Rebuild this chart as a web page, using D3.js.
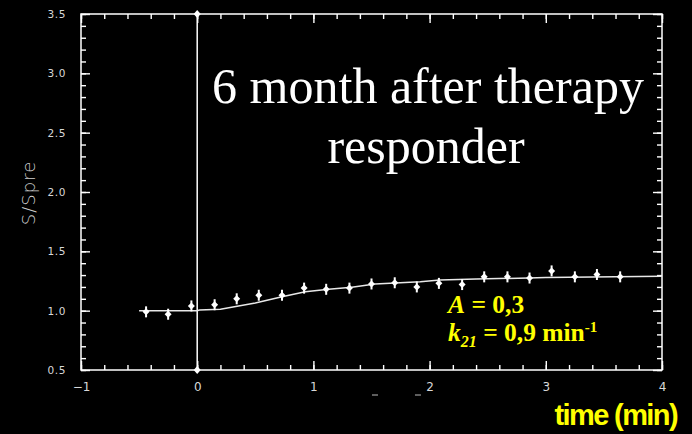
<!DOCTYPE html>
<html>
<head>
<meta charset="utf-8">
<script src="https://cdn.jsdelivr.net/npm/d3@7"></script>
<style>
  html, body { margin: 0; padding: 0; background: #000; }
  svg { display: block; }
</style>
</head>
<body>
<svg id="chart" width="692" height="434"></svg>
<script>
// Measured signal ratio S/Spre after injection (time in minutes)
const times  = [-0.44, -0.25, -0.05, 0.15, 0.34, 0.53, 0.73, 0.92, 1.11, 1.31, 1.50,
                1.70, 1.89, 2.08, 2.28, 2.47, 2.67, 2.86, 3.05, 3.25, 3.44, 3.64];
const ratios = [0.99, 0.97, 1.04, 1.05, 1.10, 1.13, 1.13, 1.19, 1.18, 1.19, 1.225,
                1.235, 1.20, 1.23, 1.22, 1.285, 1.285, 1.275, 1.335, 1.285, 1.305, 1.285];

// Fitted model curve (A = 0.3, k21 = 0.9 / min)
const fitTimes  = [-0.5, 0.0, 0.02, 0.2, 0.5, 0.73, 0.93, 1.13, 1.33, 1.53, 1.92,
                   2.09, 2.4, 2.85, 3.0, 3.6, 4.0];
const fitValues = [1.0, 1.0, 1.006, 1.012, 1.065, 1.118, 1.16, 1.18, 1.197, 1.225, 1.244,
                   1.259, 1.267, 1.275, 1.28, 1.285, 1.29];

// Injection marker
const injectionTime = 0;

// Axis ticks
const xMajorTicks = [-1, 0, 1, 2, 3, 4];
const yMajorTicks = [0.5, 1.0, 1.5, 2.0, 2.5, 3.0, 3.5];
const xDomain = [-1, 4];
const yDomain = [0.5, 3.5];

const titleLines = ["6 month after therapy", "responder"];
const yTitle = "S/Spre";
const xTitle = "time (min)";

const svg = d3.select("#chart");
const W = 692, H = 434;
const plot = { left: 81, right: 662, top: 14, bottom: 370 };

const x = d3.scaleLinear().domain(xDomain).range([plot.left, plot.right]);
const y = d3.scaleLinear().domain(yDomain).range([plot.bottom, plot.top]);

svg.append("rect").attr("width", W).attr("height", H).attr("fill", "#000");

// minor ticks
const xMinor = d3.range(-1, 4.0001, 0.2).map(v => +v.toFixed(2));
const yMinor = d3.range(0.5, 3.5001, 0.1).map(v => +v.toFixed(2));

function tickAxis(axisFn, scale, ticks, size, transform) {
  const g = svg.append("g").attr("transform", transform)
    .call(axisFn(scale).tickValues(ticks).tickSize(size).tickFormat(""));
  g.select(".domain").remove();
  g.selectAll("line").attr("stroke", "#fff").attr("stroke-width", 1.4);
  return g;
}
// bottom / top (ticks pointing inward)
tickAxis(d3.axisBottom, x, xMinor, -5, `translate(0,${plot.bottom})`);
tickAxis(d3.axisBottom, x, xMajorTicks, -9, `translate(0,${plot.bottom})`);
tickAxis(d3.axisTop, x, xMinor, -5, `translate(0,${plot.top})`);
tickAxis(d3.axisTop, x, xMajorTicks, -9, `translate(0,${plot.top})`);
// left / right
tickAxis(d3.axisLeft, y, yMinor, -5, `translate(${plot.left},0)`);
tickAxis(d3.axisLeft, y, yMajorTicks, -9, `translate(${plot.left},0)`);
tickAxis(d3.axisRight, y, yMinor, -5, `translate(${plot.right},0)`);
tickAxis(d3.axisRight, y, yMajorTicks, -9, `translate(${plot.right},0)`);

// frame
svg.append("rect")
  .attr("x", plot.left).attr("y", plot.top)
  .attr("width", plot.right - plot.left).attr("height", plot.bottom - plot.top)
  .attr("fill", "none").attr("stroke", "#fff").attr("stroke-width", 1.5);

// tick labels
const yLab = svg.append("g").attr("transform", `translate(${plot.left},0)`)
  .call(d3.axisLeft(y).tickValues(yMajorTicks).tickSize(0).tickPadding(15).tickFormat(d3.format(".1f")));
yLab.select(".domain").remove();
yLab.selectAll("text").attr("fill", "#d8d8d8").attr("font-family", "DejaVu Sans")
  .attr("font-size", 10.5).attr("letter-spacing", 0.6);

const xLab = svg.append("g").attr("transform", `translate(0,${plot.bottom})`)
  .call(d3.axisBottom(x).tickValues(xMajorTicks).tickSize(0).tickPadding(12).tickFormat(d3.format("d")));
xLab.select(".domain").remove();
xLab.selectAll("text").attr("fill", "#d8d8d8").attr("font-family", "DejaVu Sans")
  .attr("font-size", 12);

// small marks under the axis
svg.selectAll(".dash").data([1.53, 1.90]).enter().append("line")
  .attr("x1", d => x(d) - 3).attr("x2", d => x(d) + 3)
  .attr("y1", 395).attr("y2", 395)
  .attr("stroke", "#bbb").attr("stroke-width", 1);

// y axis title
svg.append("text")
  .attr("transform", `translate(35,193) rotate(-90)`)
  .attr("text-anchor", "middle")
  .attr("fill", "#d0d0d0").attr("font-family", "DejaVu Sans").attr("font-size", 18)
  .attr("font-weight", 300).attr("letter-spacing", 1)
  .text(yTitle);

// injection line
svg.append("line")
  .attr("x1", x(injectionTime)).attr("x2", x(injectionTime))
  .attr("y1", y(yDomain[0])).attr("y2", y(yDomain[1]))
  .attr("stroke", "#fff").attr("stroke-width", 1.5);

const diamond = (cx, cy, w, h) =>
  `M${cx},${cy - h}L${cx + w},${cy}L${cx},${cy + h}L${cx - w},${cy}Z`;

svg.selectAll(".inj").data(yDomain).enter().append("path")
  .attr("d", d => diamond(x(injectionTime), y(d), 3.5, 4))
  .attr("fill", "#fff");

// fit curve
const fitData = fitTimes.map((t, i) => [t, fitValues[i]]);
svg.append("path")
  .datum(fitData)
  .attr("d", d3.line().x(d => x(d[0])).y(d => y(d[1])))
  .attr("fill", "none").attr("stroke", "#e8e8e8").attr("stroke-width", 1.5);

// measured points with short error bars
const pts = times.map((t, i) => [t, ratios[i]]);
const pg = svg.append("g");
pg.selectAll("line").data(pts).enter().append("line")
  .attr("x1", d => x(d[0])).attr("x2", d => x(d[0]))
  .attr("y1", d => y(d[1]) - 5.5).attr("y2", d => y(d[1]) + 5.5)
  .attr("stroke", "#fff").attr("stroke-width", 2);
pg.selectAll("path").data(pts).enter().append("path")
  .attr("d", d => diamond(x(d[0]), y(d[1]), 3.5, 3.5))
  .attr("fill", "#fff");

// title
svg.append("text")
  .attr("x", 428).attr("y", 103)
  .attr("text-anchor", "middle")
  .attr("fill", "#fff").attr("font-family", "Liberation Serif, Times New Roman, serif")
  .attr("font-size", 50)
  .text(titleLines[0]);
svg.append("text")
  .attr("x", 426).attr("y", 163)
  .attr("text-anchor", "middle")
  .attr("fill", "#fff").attr("font-family", "Liberation Serif, Times New Roman, serif")
  .attr("font-size", 50)
  .text(titleLines[1]);

// fit parameters
const yellow = "#ffff00";
const p1 = svg.append("text").attr("x", 448).attr("y", 313)
  .attr("fill", yellow).attr("font-family", "Liberation Serif, serif")
  .attr("font-size", 25.5).attr("font-weight", "bold");
p1.append("tspan").attr("font-style", "italic").text("A");
p1.append("tspan").text(" = 0,3");

const p2 = svg.append("text").attr("x", 448).attr("y", 341)
  .attr("fill", yellow).attr("font-family", "Liberation Serif, serif")
  .attr("font-size", 25.5).attr("font-weight", "bold");
p2.append("tspan").attr("font-style", "italic").text("k");
p2.append("tspan").attr("font-style", "italic").attr("font-size", 16).attr("dy", 6).text("21");
p2.append("tspan").attr("dy", -6).text(" = 0,9 min");
p2.append("tspan").attr("font-size", 15).attr("dy", -9).text("-1");

// x axis title
svg.append("text")
  .attr("x", 677).attr("y", 425)
  .attr("text-anchor", "end")
  .attr("fill", yellow).attr("font-family", "Liberation Sans, Arial, sans-serif")
  .attr("font-size", 29).attr("font-weight", "bold").attr("letter-spacing", -1.6)
  .text(xTitle);
</script>
</body>
</html>
